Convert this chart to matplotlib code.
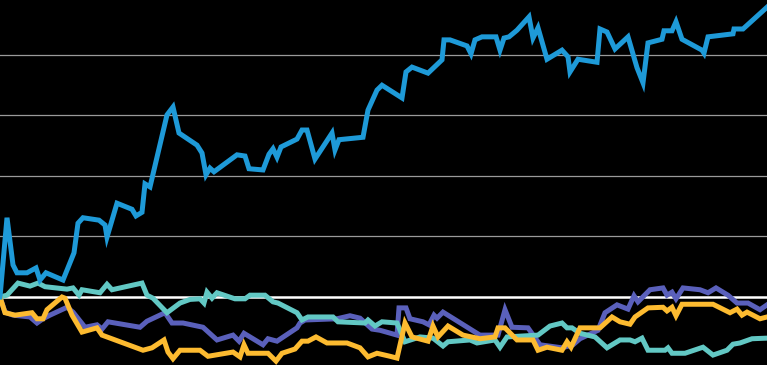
import matplotlib
matplotlib.use("Agg")
import matplotlib.pyplot as plt

# time index (unlabelled axis) and cumulative return values (%)
blue_t = [0, 7, 13, 17, 27, 36, 40, 46, 63, 74, 78, 83, 99, 105, 107, 117, 132, 136, 142, 145,
          150, 167, 173, 179, 197, 202, 206, 210, 214, 237, 245, 249, 263, 269, 273, 277, 281,
          297, 302, 307, 315, 332, 335, 339, 363, 368, 377, 382, 402, 406, 412, 428, 442, 444,
          450, 467, 471, 475, 482, 496, 500, 504, 509, 517, 529, 533, 538, 547, 562, 568, 570,
          578, 597, 600, 607, 615, 628, 637, 643, 648, 662, 664, 672, 676, 682, 702, 704, 708,
          733, 734, 743, 767]
blue_v = [0, 13.1, 5.3, 4.0, 4.0, 4.8, 2.8, 4.0, 2.8, 7.3, 12.2, 13.1, 12.7, 11.9, 9.9, 15.5,
          14.5, 13.4, 14.0, 18.7, 18.2, 30.1, 31.4, 27.1, 25.1, 23.8, 20.2, 21.3, 20.7, 23.5,
          23.3, 21.2, 21.0, 23.6, 24.5, 23.1, 24.8, 26.1, 27.6, 27.6, 22.8, 27.1, 24.3, 26.0,
          26.4, 30.9, 34.2, 35.0, 32.9, 37.2, 38.0, 37.0, 39.2, 42.5, 42.5, 41.5, 40.2, 42.5,
          43.0, 43.0, 40.8, 42.8, 43.0, 44.1, 46.3, 42.8, 44.5, 39.3, 40.8, 39.7, 37.2, 39.3,
          38.8, 44.3, 43.8, 41.0, 43.0, 37.9, 35.4, 42.0, 42.6, 44.0, 44.0, 45.5, 42.6, 40.8,
          40.3, 43.0, 43.5, 44.3, 44.3, 47.9]

teal_t = [0, 7, 18, 30, 38, 45, 67, 73, 79, 82, 100, 107, 112, 142, 147, 153, 167, 180, 190,
          200, 204, 207, 212, 217, 235, 245, 250, 265, 273, 278, 297, 302, 308, 333, 338, 365,
          368, 375, 382, 397, 405, 420, 433, 443, 448, 470, 477, 495, 500, 507, 538, 550, 562,
          567, 572, 580, 595, 607, 620, 630, 635, 642, 648, 665, 668, 672, 685, 703, 713, 727,
          733, 740, 752, 767]
teal_v = [0, 0.3, 2.3, 1.8, 2.3, 1.7, 1.3, 1.5, 0.3, 1.2, 0.7, 2.1, 1.2, 2.3, 0.3, -0.2, -2.6,
          -1.0, -0.4, -0.3, -1.0, 0.8, -0.2, 0.7, -0.3, -0.3, 0.3, 0.3, -0.8, -1.0, -2.6, -3.8,
          -3.3, -3.3, -4.1, -4.3, -3.8, -4.8, -4.1, -4.3, -7.4, -6.6, -6.8, -8.1, -7.4, -7.1,
          -7.6, -7.1, -8.3, -6.6, -6.3, -4.8, -4.3, -5.1, -5.1, -6.0, -6.6, -8.4, -7.1, -7.1,
          -7.4, -6.8, -8.8, -8.8, -8.4, -9.3, -9.3, -8.3, -9.6, -8.8, -7.8, -7.6, -6.9, -6.8]

purple_t = [0, 5, 13, 30, 37, 43, 50, 67, 73, 85, 97, 102, 108, 140, 147, 165, 172, 183, 203,
            217, 233, 239, 244, 263, 268, 277, 297, 300, 305, 337, 350, 360, 372, 380, 397, 399,
            406, 410, 423, 429, 434, 437, 443, 477, 480, 498, 505, 512, 528, 540, 562, 573, 580,
            598, 605, 617, 628, 634, 638, 650, 663, 667, 672, 676, 683, 700, 708, 716, 728, 737,
            748, 760, 767]
purple_v = [0, -2.5, -3.0, -3.3, -4.3, -3.6, -3.0, -1.7, -2.5, -5.0, -4.6, -5.3, -4.1, -5.0,
            -4.0, -2.6, -4.3, -4.3, -5.0, -7.1, -6.3, -7.3, -6.0, -7.9, -6.9, -7.3, -5.1, -4.3,
            -3.8, -3.6, -3.1, -3.5, -5.3, -5.5, -6.3, -1.8, -1.8, -3.6, -4.1, -4.6, -3.0, -3.5,
            -2.5, -6.0, -6.3, -6.3, -2.1, -5.0, -5.1, -7.9, -8.4, -7.9, -6.9, -5.5, -2.6, -1.3,
            -2.0, 0.2, -0.8, 1.2, 1.5, 0.3, 0.8, -0.3, 1.5, 1.2, 0.7, 1.5, 0.3, -1.0, -1.0,
            -2.1, -1.3]

yellow_t = [0, 5, 15, 32, 37, 43, 47, 62, 65, 72, 82, 97, 102, 143, 152, 164, 168, 173, 180,
            200, 208, 233, 240, 244, 248, 268, 276, 282, 295, 302, 308, 316, 327, 347, 360, 368,
            377, 390, 397, 405, 412, 428, 433, 438, 448, 463, 480, 495, 498, 505, 517, 533, 538,
            547, 562, 567, 571, 580, 600, 612, 620, 630, 635, 648, 663, 667, 672, 676, 682, 713,
            730, 737, 742, 747, 760, 767]
yellow_v = [0, -2.6, -3.0, -2.6, -3.6, -3.6, -2.1, 0, -0.2, -3.0, -5.8, -5.1, -6.3, -8.8,
            -8.4, -7.1, -9.1, -10.2, -8.8, -8.8, -9.8, -9.1, -9.9, -7.9, -9.3, -9.3, -10.6,
            -9.3, -8.6, -7.3, -7.3, -6.6, -7.6, -7.6, -8.4, -9.9, -9.3, -9.8, -10.1, -4.3,
            -6.6, -7.3, -4.8, -6.6, -4.8, -6.3, -6.9, -6.6, -5.1, -5.1, -7.1, -7.1, -8.8,
            -8.3, -8.8, -7.4, -8.3, -5.1, -5.1, -3.3, -4.1, -4.5, -3.3, -1.8, -1.7, -2.3,
            -1.7, -3.1, -1.2, -1.2, -2.6, -2.0, -3.0, -2.5, -3.6, -3.3]

grid_vals = [10, 20, 30, 40]

fig = plt.figure(figsize=(7.67, 3.65), dpi=100, facecolor="black")
ax = fig.add_axes([0, 0, 1, 1])
ax.set_facecolor("black")

for g in grid_vals:
    ax.axhline(g, color="#9a9a9a", lw=0.9, zorder=1)
ax.axhline(0, color="white", lw=1.8, zorder=2)

lw = 3.6
ax.plot(purple_t, purple_v, color="#5a60bb", lw=lw, zorder=3, solid_joinstyle="miter")
ax.plot(teal_t, teal_v, color="#62c8c4", lw=lw, zorder=4, solid_joinstyle="miter")
ax.plot(yellow_t, yellow_v, color="#fdbb30", lw=lw, zorder=5, solid_joinstyle="miter")
ax.plot(blue_t, blue_v, color="#1e9ad8", lw=lw, zorder=6, solid_joinstyle="miter")

ax.set_xlim(0, 767)
ax.set_ylim(-11.24, 49.09)
ax.axis("off")

fig.savefig("out.png", dpi=100, facecolor="black")
